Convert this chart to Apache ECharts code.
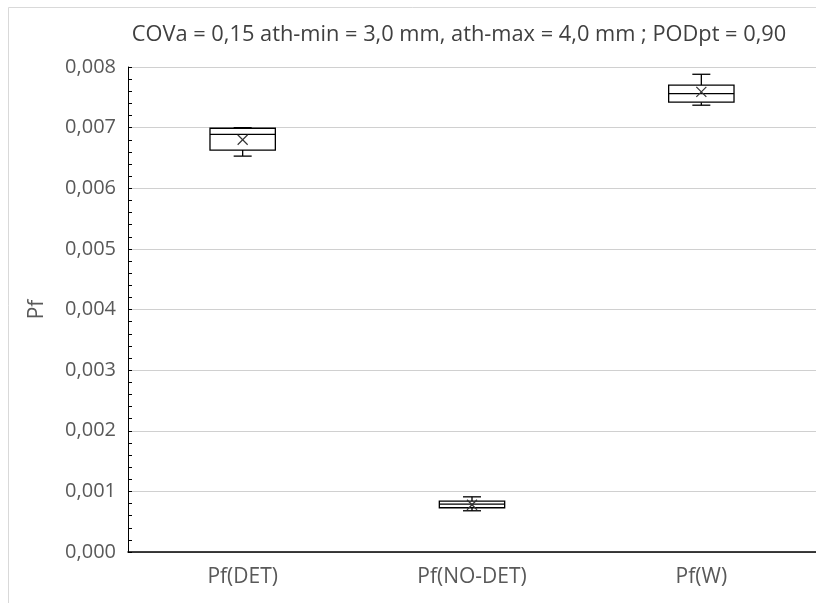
<!DOCTYPE html>
<html>
<head>
<meta charset="utf-8">
<script src="https://cdn.jsdelivr.net/npm/echarts@6/dist/echarts.min.js"></script>
<style>
  html, body { margin: 0; padding: 0; background: #fff; }
  #chart { width: 816px; height: 603px; }
</style>
</head>
<body>
<div id="chart"></div>
<script>
// Box statistics per category: min, Q1, median, Q3, max, mean
const categories = ['Pf(DET)', 'Pf(NO-DET)', 'Pf(W)'];
const minVals    = [0.00653, 0.00068, 0.00737];
const q1Vals     = [0.00663, 0.00073, 0.00742];
const medianVals = [0.00689, 0.00079, 0.00756];
const q3Vals     = [0.00699, 0.00084, 0.00770];
const maxVals    = [0.00700, 0.00091, 0.00788];
const meanVals   = [0.00680, 0.00078, 0.00759];
const yTickMin = 0, yTickMax = 0.008, yTickStep = 0.001;
const titleText = 'COVa = 0,15 ath-min = 3,0 mm, ath-max = 4,0 mm ; PODpt = 0,90';

const boxData = categories.map((c, i) =>
  [i, minVals[i], q1Vals[i], medianVals[i], q3Vals[i], maxVals[i], meanVals[i]]);

const fmt = v => v.toFixed(3).replace('.', ',');
const stroke = '#000';

function renderBox(params, api) {
  const idx = api.value(0);
  const band = api.size([1, 0])[0];
  const boxW = band * 0.285;
  const capW = 18;
  const p = k => api.coord([idx, api.value(k)]);
  const cx = p(1)[0];
  const yMin = p(1)[1], yQ1 = p(2)[1], yMed = p(3)[1], yQ3 = p(4)[1], yMax = p(5)[1], yMean = p(6)[1];
  const st = { stroke: stroke, lineWidth: 1.3, fill: null };
  const m = 5;
  return {
    type: 'group',
    children: [
      { type: 'line', shape: { x1: cx, y1: yQ3, x2: cx, y2: yMax }, style: st },
      { type: 'line', shape: { x1: cx - capW / 2, y1: yMax, x2: cx + capW / 2, y2: yMax }, style: st },
      { type: 'line', shape: { x1: cx, y1: yQ1, x2: cx, y2: yMin }, style: st },
      { type: 'line', shape: { x1: cx - capW / 2, y1: yMin, x2: cx + capW / 2, y2: yMin }, style: st },
      { type: 'rect', shape: { x: cx - boxW / 2, y: yQ3, width: boxW, height: yQ1 - yQ3 },
        style: { stroke: stroke, lineWidth: 1.3, fill: '#fff' } },
      { type: 'line', shape: { x1: cx - boxW / 2, y1: yMed, x2: cx + boxW / 2, y2: yMed }, style: st },
      { type: 'line', shape: { x1: cx - m, y1: yMean - m, x2: cx + m, y2: yMean + m }, style: { stroke: '#333', lineWidth: 1.2 } },
      { type: 'line', shape: { x1: cx - m, y1: yMean + m, x2: cx + m, y2: yMean - m }, style: { stroke: '#333', lineWidth: 1.2 } }
    ]
  };
}

const chart = echarts.init(document.getElementById('chart'), null, { renderer: 'canvas' });
chart.setOption({
  animation: false,
  backgroundColor: '#fff',
  title: {
    text: titleText,
    left: 454, top: 19, textAlign: 'center',
    textStyle: { fontFamily: 'Open Sans', fontSize: 21.8, fontWeight: 'normal', color: '#404040' }
  },
  graphic: [{
    type: 'rect', shape: { x: 8.5, y: 7.5, width: 820, height: 610 },
    style: { fill: null, stroke: '#d9d9d9', lineWidth: 1 }, silent: true
  }],
  grid: { left: 128, right: 0, top: 67, bottom: 51, containLabel: false },
  xAxis: {
    type: 'category',
    data: categories,
    axisLine: { lineStyle: { color: '#000', width: 1.5 } },
    axisTick: { show: false },
    axisLabel: { fontFamily: 'Open Sans', fontSize: 21, color: '#595959', margin: 15 },
    splitLine: { show: false }
  },
  yAxis: {
    type: 'value',
    min: yTickMin, max: yTickMax, interval: yTickStep,
    name: 'Pf', nameLocation: 'middle', nameGap: 80, nameRotate: 90,
    nameTextStyle: { fontFamily: 'Open Sans', fontSize: 21, color: '#595959' },
    axisLine: { show: true, lineStyle: { color: '#000', width: 1 } },
    axisTick: { show: true, inside: true, length: 4, lineStyle: { color: '#000' } },
    minorTick: { show: true, splitNumber: 5, length: 4, lineStyle: { color: '#000' } },
    axisLabel: { fontFamily: 'Open Sans', fontSize: 20, color: '#595959', margin: 12, formatter: fmt },
    splitLine: { lineStyle: { color: '#d0d0d0', width: 1 } }
  },
  series: [{
    type: 'custom',
    renderItem: renderBox,
    encode: { x: 0, y: [1, 2, 3, 4, 5, 6] },
    data: boxData,
    z: 10
  }]
});
</script>
</body>
</html>
